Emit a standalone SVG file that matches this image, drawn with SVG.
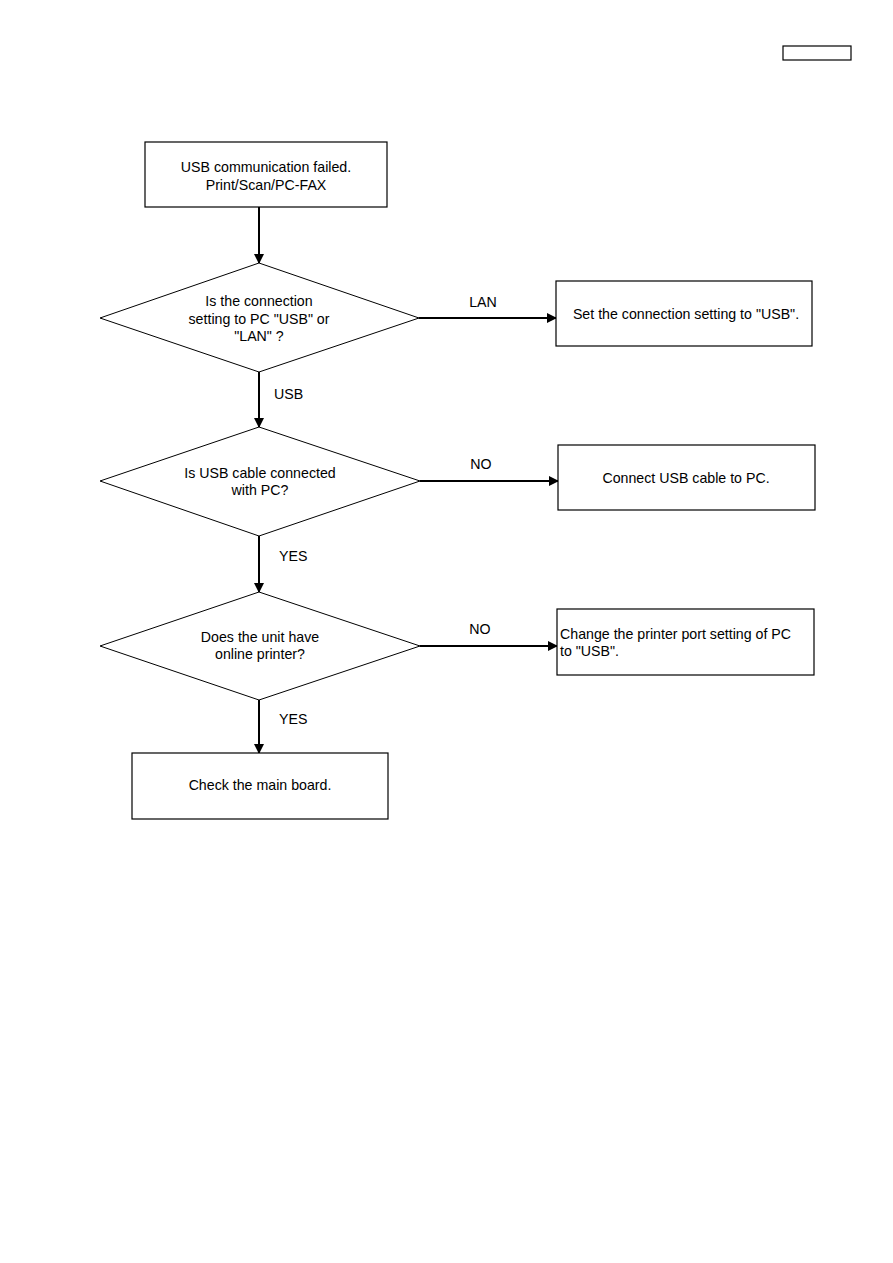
<svg xmlns="http://www.w3.org/2000/svg" width="893" height="1263" viewBox="0 0 893 1263">
<style>
.box{fill:#fff;stroke:#000;stroke-width:1.2}
.dia{fill:#fff;stroke:#000;stroke-width:1}
.con{fill:none;stroke:#000;stroke-width:2}
text{font-family:"Liberation Sans",Arial,sans-serif;font-size:14.2px;fill:#000}
.c{text-anchor:middle}
</style>
<defs>
<marker id="arr" markerWidth="10" markerHeight="10" refX="9" refY="5" orient="auto" markerUnits="userSpaceOnUse">
<path d="M0,0 L10,5 L0,10 Z" fill="#000"/>
</marker>
</defs>
<rect width="893" height="1263" fill="#fff"/>
<g id="tag"><rect class="box" x="783" y="46" width="68" height="14"/></g>
<g id="connectors">
<line class="con" x1="259" y1="207" x2="259" y2="263" marker-end="url(#arr)"/>
<line class="con" x1="419" y1="318" x2="556" y2="318" marker-end="url(#arr)"/>
<line class="con" x1="259" y1="372" x2="259" y2="427" marker-end="url(#arr)"/>
<line class="con" x1="420" y1="481" x2="558" y2="481" marker-end="url(#arr)"/>
<line class="con" x1="259" y1="536" x2="259" y2="592" marker-end="url(#arr)"/>
<line class="con" x1="420" y1="646" x2="557" y2="646" marker-end="url(#arr)"/>
<line class="con" x1="259" y1="700" x2="259" y2="753" marker-end="url(#arr)"/>
<text class="c" x="483" y="307">LAN</text>
<text x="274" y="399">USB</text>
<text class="c" x="481" y="469">NO</text>
<text x="279" y="561">YES</text>
<text class="c" x="480" y="634">NO</text>
<text x="279" y="724">YES</text>
</g>
<g id="start">
<rect class="box" x="145" y="142" width="242" height="65"/>
<text class="c" x="266" y="172">USB communication failed.</text>
<text class="c" x="266" y="190">Print/Scan/PC-FAX</text>
</g>
<g id="q1">
<polygon class="dia" points="259,263 419,318 259,372 100,318"/>
<text class="c" x="259" y="306">Is the connection</text>
<text class="c" x="259" y="324">setting to PC "USB" or</text>
<text class="c" x="259" y="341">"LAN" ?</text>
</g>
<g id="setusb">
<rect class="box" x="556" y="281" width="256" height="65"/>
<text class="c" x="686" y="319">Set the connection setting to "USB".</text>
</g>
<g id="q2">
<polygon class="dia" points="259,427 420,481 259,536 100,481"/>
<text class="c" x="260" y="478">Is USB cable connected</text>
<text class="c" x="260" y="495">with PC?</text>
</g>
<g id="connect">
<rect class="box" x="558" y="445" width="257" height="65"/>
<text class="c" x="686" y="483">Connect USB cable to PC.</text>
</g>
<g id="q3">
<polygon class="dia" points="259,592 420,646 259,700 100,646"/>
<text class="c" x="260" y="642">Does the unit have</text>
<text class="c" x="260" y="659">online printer?</text>
</g>
<g id="change">
<rect class="box" x="557" y="609" width="257" height="66"/>
<text x="560" y="639">Change the printer port setting of PC</text>
<text x="560" y="656">to "USB".</text>
</g>
<g id="check">
<rect class="box" x="132" y="753" width="256" height="66"/>
<text class="c" x="260" y="790">Check the main board.</text>
</g>
</svg>
